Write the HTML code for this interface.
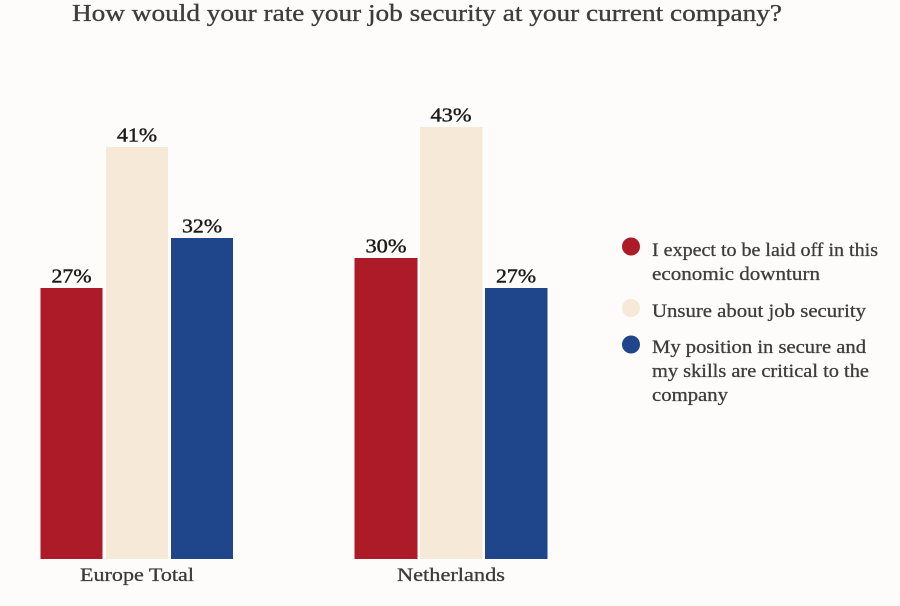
<!DOCTYPE html>
<html>
<head>
<meta charset="utf-8">
<style>
  html, body { margin: 0; padding: 0; background: #fdfcfa; }
  svg { display: block; }
  text { font-family: "Liberation Serif", "DejaVu Serif", serif; }
</style>
</head>
<body>
<svg width="900" height="606" viewBox="0 0 900 606" xmlns="http://www.w3.org/2000/svg">
  <rect x="0" y="0" width="900" height="606" fill="#fdfcfa"/>

  <!-- Title -->
  <text x="72" y="21" font-size="24" fill="#3d3d3d" stroke="#3d3d3d" stroke-width="0.35" textLength="710" lengthAdjust="spacingAndGlyphs">How would your rate your job security at your current company?</text>

  <!-- Europe Total bars -->
  <rect x="40.5" y="288" width="62" height="271" fill="#ad1b28"/>
  <rect x="106" y="147" width="62" height="412" fill="#f6e9d7"/>
  <rect x="171" y="238" width="62" height="321" fill="#1f458a"/>

  <!-- Netherlands bars -->
  <rect x="354.5" y="258" width="63" height="301" fill="#ad1b28"/>
  <rect x="420" y="127" width="62.5" height="432" fill="#f6e9d7"/>
  <rect x="485" y="288" width="62.5" height="271" fill="#1f458a"/>

  <!-- Value labels -->
  <g font-size="20" fill="#1b1b1b" stroke="#1b1b1b" stroke-width="0.45" text-anchor="middle">
    <text x="71.5" y="282.5" textLength="40" lengthAdjust="spacingAndGlyphs">27%</text>
    <text x="137" y="141.5" textLength="40" lengthAdjust="spacingAndGlyphs">41%</text>
    <text x="202" y="232.5" textLength="40" lengthAdjust="spacingAndGlyphs">32%</text>
    <text x="386" y="252.5" textLength="41" lengthAdjust="spacingAndGlyphs">30%</text>
    <text x="451" y="121.5" textLength="41" lengthAdjust="spacingAndGlyphs">43%</text>
    <text x="516" y="282.5" textLength="40" lengthAdjust="spacingAndGlyphs">27%</text>
  </g>

  <!-- Category labels -->
  <g font-size="19" fill="#3a3a3a" stroke="#3a3a3a" stroke-width="0.3">
    <text x="80" y="581" textLength="114" lengthAdjust="spacingAndGlyphs">Europe Total</text>
    <text x="397" y="581" textLength="108" lengthAdjust="spacingAndGlyphs">Netherlands</text>
  </g>

  <!-- Legend -->
  <circle cx="631" cy="246.5" r="9" fill="#ad1b28"/>
  <circle cx="631" cy="308" r="9" fill="#f6e9d7"/>
  <circle cx="631" cy="344.5" r="9" fill="#1f458a"/>
  <g font-size="19" fill="#3d3d3d" stroke="#3d3d3d" stroke-width="0.3">
    <text x="652" y="256" textLength="226" lengthAdjust="spacingAndGlyphs">I expect to be laid off in this</text>
    <text x="652" y="280" textLength="168" lengthAdjust="spacingAndGlyphs">economic downturn</text>
    <text x="652" y="317" textLength="214" lengthAdjust="spacingAndGlyphs">Unsure about job security</text>
    <text x="652" y="353" textLength="214" lengthAdjust="spacingAndGlyphs">My position in secure and</text>
    <text x="652" y="377" textLength="217" lengthAdjust="spacingAndGlyphs">my skills are critical to the</text>
    <text x="652" y="401" textLength="76" lengthAdjust="spacingAndGlyphs">company</text>
  </g>
</svg>
</body>
</html>
